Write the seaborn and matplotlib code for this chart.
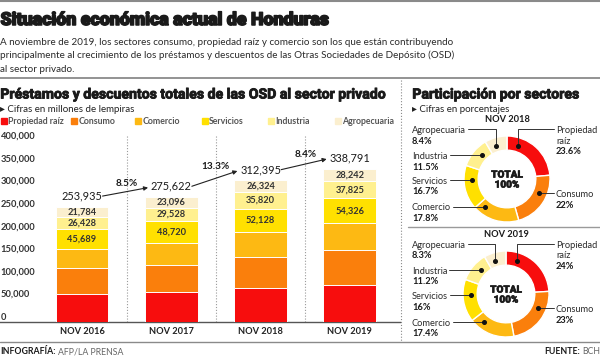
import matplotlib
matplotlib.use("Agg")
import matplotlib.pyplot as plt
import matplotlib.font_manager as fm
import matplotlib.patheffects as pe
from matplotlib.patches import Rectangle
from matplotlib.lines import Line2D
import numpy as np
import pandas as pd
import seaborn as sns

# ---------------- data ----------------
years = ["NOV 2016", "NOV 2017", "NOV 2018", "NOV 2019"]
sectors = ["Propiedad raíz", "Consumo", "Comercio", "Servicios", "Industria", "Agropecuaria"]
propiedad_raiz = [61000, 65300, 73750, 81400]
consumo = [58000, 60700, 68750, 78000]
comercio = [41034, 48278, 55623, 58998]
servicios = [45689, 48720, 52128, 54326]
industria = [26428, 29528, 35820, 37825]
agropecuaria = [21784, 23096, 26324, 28242]
totales = [253935, 275622, 312395, 338791]
crecimiento = ["8.5%", "13.3%", "8.4%"]
y_ticks = [0, 50000, 100000, 150000, 200000, 250000, 300000, 350000, 400000]

pie_years = ["NOV 2018", "NOV 2019"]
pie_labels = ["Propiedad\nraíz", "Consumo", "Comercio", "Servicios", "Industria", "Agropecuaria"]
pct_2018 = [23.6, 22, 17.8, 16.7, 11.5, 8.4]
pct_2019 = [24, 23, 17.4, 16, 11.2, 8.3]

colors = ["#F70D0D", "#FA7F0C", "#FDB913", "#FFE000", "#FFF08F", "#FBEFCF"]

# ---------------- fonts ----------------
sns.set_style("white")
avail = {f.name for f in fm.fontManager.ttflist}
def pick(cands, default):
    for c in cands:
        if c in avail:
            return c
    return default
MAIN = pick(["Lato", "Noto Sans"], "DejaVu Sans")
HEAD = pick(["Roboto", "Inter", "Open Sans"], MAIN)
plt.rcParams["font.family"] = [MAIN, "DejaVu Sans"]

W, H = 600, 357
fig = plt.figure(figsize=(6, 3.57), dpi=100)
fig.patch.set_facecolor("white")

def fx(x): return x / W
def fy(y): return 1 - y / H
def pt(px): return px * 0.72

def ftext(x, y, s, size, weight="normal", color="#222222", ha="left", va="baseline", family=None,
          stroke=0):
    fam = [family or MAIN, "DejaVu Sans"]
    t = fig.text(fx(x), fy(y), s, fontsize=pt(size), fontweight=weight, color=color,
                 ha=ha, va=va, family=fam)
    if stroke:
        t.set_path_effects([pe.withStroke(linewidth=stroke, foreground=color)])
    return t

def hline(y, x0, x1, color="#8a8a8a", lw=1.2, ls="-"):
    fig.add_artist(Line2D([fx(x0), fx(x1)], [fy(y), fy(y)], color=color, lw=lw, ls=ls,
                          transform=fig.transFigure))

def vline(x, y0, y1, color="#8a8a8a", lw=0.8, ls=":"):
    fig.add_artist(Line2D([fx(x), fx(x)], [fy(y0), fy(y1)], color=color, lw=lw, ls=ls,
                          transform=fig.transFigure))

# ---------------- header ----------------
hline(1, 0, 600, lw=1.5)
ftext(0.5, 25, "Situación económica actual de Honduras", 17.8, weight="black", color="#1a1a1a",
      family=HEAD, stroke=1.1)
sub = ["A noviembre de 2019, los sectores consumo, propiedad raíz y comercio son los que están contribuyendo",
       "principalmente al crecimiento de los préstamos y descuentos de las Otras Sociedades de Depósito (OSD)",
       "al sector privado."]
for i, s in enumerate(sub):
    ftext(0, 45 + 13.3 * i, s, 9.9, color="#2a2a2a")
hline(77.5, 0, 600, lw=1.3)

# ---------------- bar section ----------------
ftext(0.3, 98.5, "Préstamos y descuentos totales de las OSD al sector privado", 14.1, weight="bold",
      color="#1a1a1a", family=HEAD, stroke=0.6)
ftext(0, 112, "▸ Cifras en millones de lempiras", 9.8, color="#222222")

leg_x = [1, 71, 135, 202, 268, 335]
for i, s in enumerate(sectors):
    fig.add_artist(Rectangle((fx(leg_x[i]), fy(124.3)), 6 / W, 6.3 / H, color=colors[i],
                             transform=fig.transFigure))
    ftext(leg_x[i] + 7.3, 124.3, s, 8.8, weight="bold", color="#555555")

base_px = 321.7
px_per_50k = 22.6
ytop = 410000
ax_h = ytop / 50000 * px_per_50k
ax = fig.add_axes([0, fy(base_px), 400 / W, ax_h / H])
series = [propiedad_raiz, consumo, comercio, servicios, industria, agropecuaria]
cums = np.cumsum(np.array(series), axis=0)
for k in reversed(range(len(series))):
    df = pd.DataFrame({"year": years, "cum": cums[k]})
    sns.barplot(data=df, x="year", y="cum", color=colors[k], saturation=1, width=0.593,
                edgecolor="white", linewidth=0.7, errorbar=None, ax=ax, zorder=3)

spacing = 89.3
x_left = -82 / spacing
ax.set_xlim(x_left, x_left + 400 / spacing)
ax.set_ylim(0, ytop)
for s in ["top", "right", "left"]:
    ax.spines[s].set_visible(False)
ax.spines["bottom"].set_color("#555555")
ax.spines["bottom"].set_linewidth(1.0)
ax.set_xlabel("")
ax.set_ylabel("")
ax.set_yticks(y_ticks)
ax.set_yticklabels([f"{v:,}" for v in y_ticks], ha="left", va="bottom",
                   fontsize=pt(9.4), fontweight="bold", color="#333333")
ax.tick_params(axis="y", length=0, pad=-0.5)
ax.set_xticks(range(len(years)))
ax.set_xticklabels(years, fontsize=pt(9.3), fontweight="bold", color="#222222")
ax.tick_params(axis="x", length=0, pad=pt(5.5))
ax.grid(False)

for i in range(len(years) - 1):
    ax.axvline(i + 0.5, ymin=0, ymax=1, color="#9a9a9a", lw=0.8, ls=(0, (1, 1.6)), zorder=1)

# segment labels (servicios, industria, agropecuaria)
for k in [3, 4, 5]:
    for i in range(len(years)):
        bottom = cums[k - 1][i]
        mid = bottom + series[k][i] / 2
        ax.text(i, mid, f"{series[k][i]:,}", ha="center", va="center", fontsize=pt(9.3),
                fontweight="bold", color="#333333", zorder=5)

# totals + arrows + growth
lab_y = [t + 16000 for t in totales]
for i, t in enumerate(totales):
    ax.text(i, lab_y[i], f"{t:,}", ha="center", va="baseline", fontsize=pt(11),
            color="#1a1a1a", zorder=6)
for i in range(len(totales) - 1):
    ax.annotate("", xy=(i + 0.74, lab_y[i + 1] + 5000), xytext=(i + 0.23, lab_y[i] + 8000),
                arrowprops=dict(arrowstyle="-|>", color="#222222", lw=0.8,
                                mutation_scale=6, shrinkA=0, shrinkB=0), zorder=6)
    ax.text(i + 0.5, lab_y[i + 1] + 9000, crecimiento[i], ha="center", va="baseline",
            fontsize=pt(10), fontweight="bold", color="#1a1a1a", zorder=6)

# ---------------- right panel ----------------
vline(401, 80, 341)
ftext(412.3, 98.5, "Participación por sectores", 14.1, weight="bold", color="#1a1a1a",
      family=HEAD, stroke=0.6)
ftext(412, 112, "▸ Cifras en porcentajes", 9.8, color="#222222")
hline(226.7, 408, 600, lw=1.0, color="#9a9a9a")

centers = [(507, 179), (506, 294)]
title_y = [122.5, 237.3]
R = 43
mid_r = 35
label_dy = [-50, 14.3, 27.5, 1, -24, -50]
pcts = [pct_2018, pct_2019]

renderer = fig.canvas.get_renderer()
for d in range(2):
    cx, cy = centers[d]
    ftext(cx, title_y[d], pie_years[d], 9.3, weight="bold", ha="center", color="#1a1a1a")
    axd = fig.add_axes([fx(cx - R), fy(cy + R), 2 * R / W, 2 * R / H])
    axd.pie(pcts[d], colors=colors, startangle=90, counterclock=False, radius=1,
            wedgeprops=dict(width=0.33, edgecolor="white", linewidth=1.0))
    axd.set_xlim(-1, 1)
    axd.set_ylim(-1, 1)
    axd.axis("off")
    ftext(cx, cy - 1.4, "TOTAL", 10.0, weight="black", ha="center", color="#1a1a1a", family=HEAD,
          stroke=0.4)
    ftext(cx, cy + 8.6, "100%", 10.0, weight="black", ha="center", color="#1a1a1a", family=HEAD,
          stroke=0.4)

    def to_d(px, py):
        return (px - cx) / R, (cy - py) / R

    for k, name in enumerate(pie_labels):
        ly = cy + label_dy[k]
        right = k in (0, 1)
        lines = name.split("\n")
        tx = 556 if right else 412
        texts = []
        for j, ln in enumerate(lines):
            texts.append(ftext(tx, ly + 4 + 10.5 * j, ln, 9.3, color="#2a2a2a"))
        ftext(tx, ly + 4 + 10.5 * len(lines), f"{pcts[d][k]:g}%", 9.3, weight="bold", color="#1a1a1a")
        bb = texts[0].get_window_extent(renderer)
        dy = cy - ly
        if k in (0, 5):
            ex = cx + (11 if right else -11)
            ddx = ex - cx
            dot = (ex, cy - np.sqrt(mid_r ** 2 - ddx ** 2))
            x_start = (bb.x0 - 2) if right else (bb.x1 + 2)
            pts = [(x_start, ly), (ex, ly), dot]
        else:
            ddx = np.sqrt(max(mid_r ** 2 - dy ** 2, 0))
            dot = (cx + ddx if right else cx - ddx, ly)
            x_start = (bb.x0 - 2) if right else (bb.x1 + 2)
            pts = [(x_start, ly), dot]
        dpts = [to_d(p[0], p[1]) for p in pts]
        axd.plot([p[0] for p in dpts], [p[1] for p in dpts], color="#333333", lw=0.7,
                 clip_on=False, zorder=5)
        axd.plot([dpts[-1][0]], [dpts[-1][1]], "o", color="#111111", ms=2.6, clip_on=False, zorder=6)

# ---------------- footer ----------------
hline(341.5, 0, 600, lw=1.0, color="#8a8a8a")
t1 = ftext(0, 354.3, "INFOGRAFÍA:", 8.8, weight="bold", color="#1a1a1a")
bb = t1.get_window_extent(renderer)
ftext(bb.x1 + 2, 354.3, "AFP/LA PRENSA", 8.8, color="#666666")
t2 = ftext(600, 354.3, "BCH", 8.8, color="#666666", ha="right")
bb2 = t2.get_window_extent(renderer)
ftext(bb2.x0 - 2, 354.3, "FUENTE:", 8.8, weight="bold", color="#1a1a1a", ha="right")

fig.savefig("out.png", dpi=100, facecolor="white")
